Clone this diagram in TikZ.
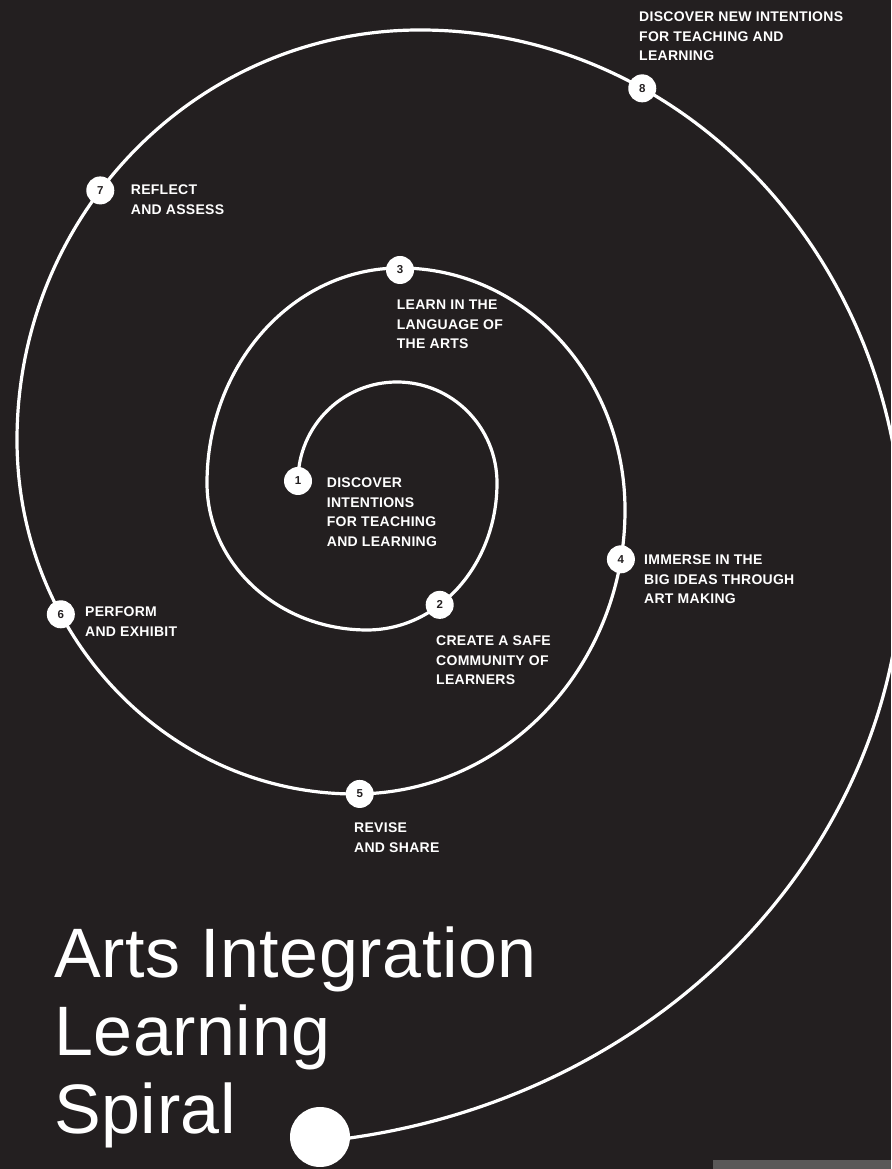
\documentclass[tikz,border=0pt]{standalone}
\usepackage{fontspec}
\setmainfont{Liberation Sans}
\newfontfamily\labfam[LetterSpace=2]{Liberation Sans}
\newfontfamily\titfam[LetterSpace=0.8]{Liberation Sans}
\definecolor{bg}{RGB}{35,31,32}
\definecolor{barc}{RGB}{90,88,88}
\begin{document}
\begin{tikzpicture}[x=1pt,y=1pt,
  spiral/.style={draw=white, line width=3.2pt},
  num/.style={circle, fill=white, minimum size=28pt, inner sep=0pt, text=bg,
    font=\fontsize{11.5}{11.5}\selectfont\bfseries},
  endball/.style={circle, fill=white, minimum size=60pt, inner sep=0pt},
  lab/.style={anchor=north west, inner sep=0pt, align=left, text=white,
    font=\labfam\fontsize{14}{19.5}\selectfont\bfseries},
  title/.style={anchor=north west, inner sep=0pt, align=left, text=white,
    font=\titfam\fontsize{70}{78}\selectfont}
]
\fill[bg] (0,0) rectangle (891,1169);
\useasboundingbox (0,0) rectangle (891,1169);
\fill[barc] (713,0) rectangle (891,9);

\coordinate (s) at (298,688);
\draw[spiral] (s)
  arc[start angle=180,end angle=90,x radius=99pt,y radius=99pt]
  arc[start angle=90,end angle=0,x radius=100pt,y radius=101pt]
  arc[start angle=0,end angle=-90,x radius=130pt,y radius=147pt]
  arc[start angle=-90,end angle=-180,x radius=160pt,y radius=147pt]
  arc[start angle=180,end angle=90,x radius=193pt,y radius=215pt]
  arc[start angle=90,end angle=0,x radius=225pt,y radius=242pt]
  arc[start angle=0,end angle=-90,x radius=270pt,y radius=284pt]
  arc[start angle=-90,end angle=-180,x radius=338pt,y radius=354pt]
  arc[start angle=180,end angle=90,x radius=403pt,y radius=410pt]
  arc[start angle=90,end angle=0,x radius=483pt,y radius=520pt]
  arc[start angle=0,end angle=-81.2,x radius=653pt,y radius=595pt]
  coordinate (e);

\node[endball] (ball) at (320,32) {};

\node[num] (n1) at (s) {1};
\node[num] (n2) at ({367+130*cos(-56)},{686+147*sin(-56)}) {2};
\node[num] (n3) at (400,899) {3};
\node[num] (n4) at ({355+270*cos(-10)},{659+284*sin(-10)}) {4};
\node[num] (n5) at ({355+270*cos(-89)},{659+284*sin(-89)}) {5};
\node[num] (n6) at ({355+338*cos(-150.5)},{729+354*sin(-150.5)}) {6};
\node[num] (n7) at ({420+403*cos(142.5)},{729+410*sin(142.5)}) {7};
\node[num] (n8) at ({420+483*cos(62.6)},{619+520*sin(62.6)}) {8};

\node[lab] (l1) at (326.7,691.3) {DISCOVER\\INTENTIONS\\FOR TEACHING\\AND LEARNING};
\node[lab] (l2) at (436,533) {CREATE A SAFE\\COMMUNITY OF\\LEARNERS};
\node[lab] (l3) at (396.7,869) {LEARN IN THE\\LANGUAGE OF\\THE ARTS};
\node[lab] (l4) at (644,614) {IMMERSE IN THE\\BIG IDEAS THROUGH\\ART MAKING};
\node[lab] (l5) at (354,346.3) {REVISE\\AND SHARE};
\node[lab] (l6) at (85,562.3) {PERFORM\\AND EXHIBIT};
\node[lab] (l7) at (130.7,984) {REFLECT\\AND ASSESS};
\node[lab] (l8) at (639,1157.3) {DISCOVER NEW INTENTIONS\\FOR TEACHING AND\\LEARNING};

\node[title] (t) at (54,242.3) {Arts Integration\\Learning\\Spiral};
\end{tikzpicture}
\end{document}
